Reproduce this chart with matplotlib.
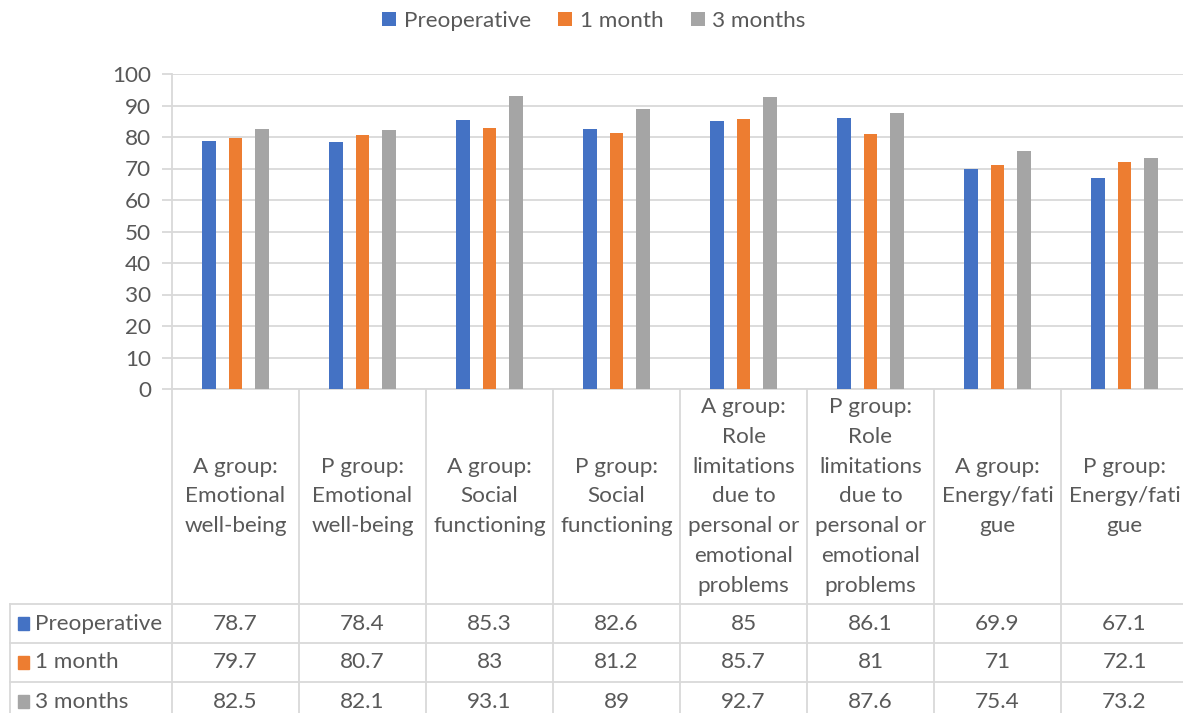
import numpy as np
import matplotlib
matplotlib.use("Agg")
import matplotlib.pyplot as plt
from matplotlib import transforms
from matplotlib.lines import Line2D
from matplotlib.patches import Rectangle

plt.rcParams['font.family'] = ['Lato', 'DejaVu Sans']

categories = ["A group:\nEmotional\nwell-being", "P group:\nEmotional\nwell-being",
              "A group:\nSocial\nfunctioning", "P group:\nSocial\nfunctioning",
              "A group:\nRole\nlimitations\ndue to\npersonal or\nemotional\nproblems",
              "P group:\nRole\nlimitations\ndue to\npersonal or\nemotional\nproblems",
              "A group:\nEnergy/fati\ngue", "P group:\nEnergy/fati\ngue"]
series_names = ["Preoperative", "1 month", "3 months"]
preop = [78.7, 78.4, 85.3, 82.6, 85, 86.1, 69.9, 67.1]
month1 = [79.7, 80.7, 83, 81.2, 85.7, 81, 71, 72.1]
month3 = [82.5, 82.1, 93.1, 89, 92.7, 87.6, 75.4, 73.2]
labels_fmt = [["78.7", "78.4", "85.3", "82.6", "85", "86.1", "69.9", "67.1"],
              ["79.7", "80.7", "83", "81.2", "85.7", "81", "71", "72.1"],
              ["82.5", "82.1", "93.1", "89", "92.7", "87.6", "75.4", "73.2"]]
colors = ["#4472C4", "#ED7D31", "#A5A5A5"]

W, H = 1183, 713
fig = plt.figure(figsize=(W / 100, H / 100), dpi=100)
ax_l, ax_r, ax_t, ax_b = 172, 1188, 74, 389
ax = fig.add_axes([ax_l / W, 1 - ax_b / H, (ax_r - ax_l) / W, (ax_b - ax_t) / H])

txt_col = "#595959"
grid_col = "#D9D9D9"
fs = 16.2

x = np.arange(len(categories))
offs = [-0.205, 0, 0.205]
for vals, off, c, name in zip([preop, month1, month3], offs, colors, series_names):
    ax.bar(x + off, vals, width=0.11, color=c, label=name, zorder=3)

ax.set_xlim(-0.5, len(categories) - 0.5)
ax.set_ylim(0, 100)
ax.set_yticks(np.arange(0, 101, 10))
ax.yaxis.grid(True, color=grid_col, linewidth=1.3, zorder=0)
for s in ["top", "right"]:
    ax.spines[s].set_visible(False)
for s in ["left", "bottom"]:
    ax.spines[s].set_color(grid_col)
    ax.spines[s].set_linewidth(1.3)
ax.tick_params(axis='y', colors=grid_col, labelcolor=txt_col, labelsize=fs, length=7, width=1.3, pad=8)
ax.tick_params(axis='x', bottom=False, labelbottom=False)

# data table below the axes
pxh = ax_b - ax_t
def yfrac(py):
    return (ax_b - py) / pxh

tr = transforms.blended_transform_factory(ax.transData, ax.transAxes)
left_x = -0.5 - (ax_l - 10) / 127.0
hdr_bot = 604
row_lines = [604, 643, 682, 721]

for i in range(len(categories) + 1):
    ax.add_line(Line2D([i - 0.5, i - 0.5], [0, yfrac(725)], transform=tr, color=grid_col,
                       lw=1.3, clip_on=False))
ax.add_line(Line2D([left_x, left_x], [yfrac(hdr_bot), yfrac(725)], transform=tr, color=grid_col,
                   lw=1.3, clip_on=False))
for ry in row_lines:
    ax.add_line(Line2D([left_x, len(categories) - 0.5], [yfrac(ry), yfrac(ry)], transform=tr,
                       color=grid_col, lw=1.3, clip_on=False))

for i, cat in enumerate(categories):
    ax.text(i, yfrac((ax_b + hdr_bot) / 2), cat, transform=tr, ha="center", va="center",
            fontsize=fs, color=txt_col, linespacing=1.62, clip_on=False)

for r, (name, c) in enumerate(zip(series_names, colors)):
    cy = yfrac((row_lines[r] + row_lines[r + 1]) / 2)
    ax.add_patch(Rectangle((left_x + 8 / 127, cy - 0.022), 11 / 127, 0.044, transform=tr,
                           color=c, clip_on=False))
    ax.text(left_x + 25 / 127, cy, name, transform=tr, ha="left", va="center",
            fontsize=fs, color=txt_col, clip_on=False)
    for i in range(len(categories)):
        ax.text(i, cy, labels_fmt[r][i], transform=tr, ha="center", va="center",
                fontsize=fs, color=txt_col, clip_on=False)

handles, lbls = ax.get_legend_handles_labels()
leg = fig.legend(handles, lbls, loc="center", bbox_to_anchor=(594 / W, 1 - 21 / H), ncol=3,
                 frameon=False, fontsize=fs, handlelength=0.62, handleheight=0.62,
                 handletextpad=0.35, columnspacing=1.2, labelcolor=txt_col)

fig.savefig("out.png", dpi=100)
